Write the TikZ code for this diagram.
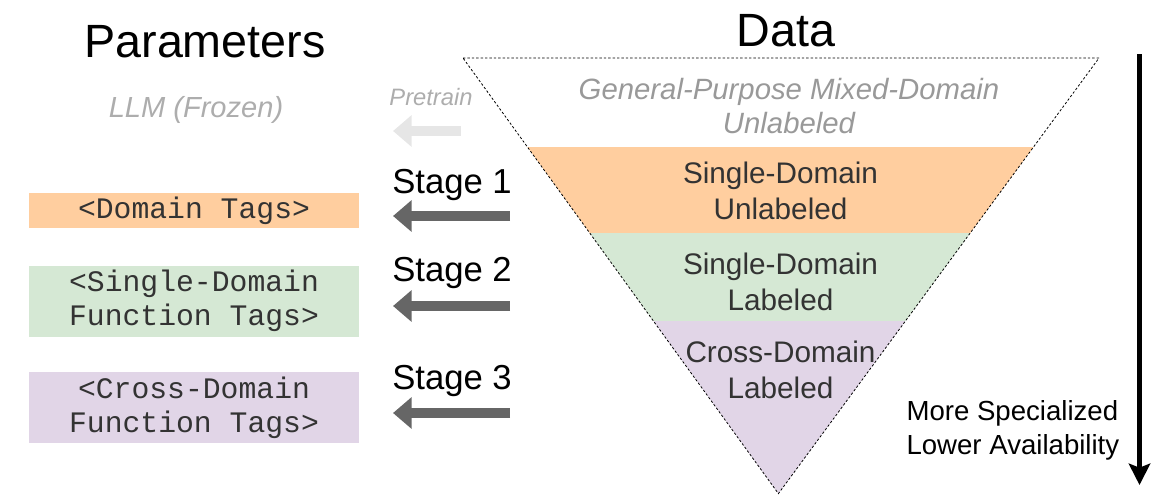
\documentclass[tikz,border=0pt]{standalone}
\usepackage{fontspec}
\setmainfont{Liberation Sans}
\setmonofont{Liberation Mono}
\usetikzlibrary{arrows.meta}

\definecolor{orangeband}{RGB}{255,206,159}
\definecolor{greenband}{RGB}{213,232,212}
\definecolor{purpleband}{RGB}{225,213,231}
\definecolor{darktext}{RGB}{51,51,51}
\definecolor{greytext}{RGB}{153,153,153}
\definecolor{stagegrey}{RGB}{102,102,102}
\definecolor{pregrey}{RGB}{230,230,230}

\tikzset{every picture/.style={line width=0.75pt}}
\tikzset{
  tagbox/.style={inner sep=0pt, minimum width=247.5pt, align=center, text=darktext,
    font=\fontsize{22.3}{25.5}\selectfont\ttfamily},
  bandtext/.style={align=center, text=darktext, font=\fontsize{22.3}{27}\selectfont},
  stagetext/.style={font=\fontsize{26}{30}\selectfont},
  stagearrow/.style={draw=stagegrey, line width=7.5pt, -{Triangle[length=14pt,width=23pt]}},
  title/.style={font=\fontsize{35}{40}\selectfont}
}

\begin{document}
\begin{tikzpicture}[x=0.75pt,y=0.75pt,yscale=-1,xscale=1]
	\useasboundingbox (0,0) rectangle (1155,497);

	% corners of the data funnel
	\coordinate (tl) at (463,58);
	\coordinate (tr) at (1099,58);
	\coordinate (apex) at (778.4,493.6);

	%Shape: Bands
	\begin{scope}
	\clip (tl) -- (tr) -- (apex) -- cycle;
	\fill [orangeband] (440,147) rectangle (1120,233);
	\fill [greenband] (440,233) rectangle (1120,321);
	\fill [purpleband] (440,321) rectangle (1120,500);
	\end{scope}
	%Shape: Triangle
	\draw [line width=0.6pt, dash pattern=on 1.8pt off 1.5pt] (tl) -- (tr) -- (apex) -- cycle;

	% Text Node
	\node [title] (params) at (205,42) {Parameters};
	% Text Node
	\node [title] (data) at (786,31) {Data};

	% Text Node
	\node [align=center, text=greytext, font=\fontsize{22}{26}\selectfont\itshape] (general) at (789,106) {General-Purpose Mixed-Domain\\Unlabeled};
	% Text Node
	\node [bandtext] (sdu) at (780.5,191) {Single-Domain\\Unlabeled};
	% Text Node
	\node [bandtext] (sdl) at (780.5,281.5) {Single-Domain\\Labeled};
	% Text Node
	\node [bandtext] (cdl) at (780.5,369.5) {Cross-Domain\\Labeled};

	% Text Node
	\node [align=left, font=\fontsize{20.7}{25.5}\selectfont, anchor=west, inner sep=0pt] (spec) at (906,430) {More Specialized\\Lower Availability};
	%Straight Lines
	\coordinate (vtop) at (1139.5,54);
	\coordinate (vbot) at (1139.5,485);
	\draw [line width=3.8pt, -{Stealth[length=16pt,width=16pt,inset=3pt]}] (vtop) -- (vbot);

	% Text Node
	\node [text=greytext!80, font=\fontsize{21.8}{26}\selectfont\itshape] (llm) at (196,110) {LLM (Frozen)};
	% Text Node
	\node [text=greytext!80, font=\fontsize{17.8}{21}\selectfont\itshape] (pre) at (431,97) {Pretrain};
	\coordinate (pre-a) at (461,131);
	\coordinate (pre-b) at (393,131);
	\draw [stagearrow, draw=pregrey] (pre-a) -- (pre-b);

	% Text Node
	\node [stagetext] (st1) at (452,185) {Stage 1};
	% Text Node
	\node [stagetext] (st2) at (452,273) {Stage 2};
	% Text Node
	\node [stagetext] (st3) at (452,381) {Stage 3};
	\coordinate (a1) at (510,216);
	\coordinate (b1) at (393,216);
	\coordinate (a2) at (510,306);
	\coordinate (b2) at (393,306);
	\coordinate (a3) at (510,413);
	\coordinate (b3) at (393,413);
	\draw [stagearrow] (a1) -- (b1);
	\draw [stagearrow] (a2) -- (b2);
	\draw [stagearrow] (a3) -- (b3);

	%Shape: Tag boxes
	\node [tagbox, fill=orangeband, minimum height=26.25pt] (domtags) at (194,210.5) {<Domain Tags>};
	\node [tagbox, fill=greenband, minimum height=53.25pt] (sdtags) at (194,301) {<Single-Domain\\Function Tags>};
	\node [tagbox, fill=purpleband, minimum height=53.25pt] (cdtags) at (194,407.5) {<Cross-Domain\\Function Tags>};

\end{tikzpicture}
\end{document}
